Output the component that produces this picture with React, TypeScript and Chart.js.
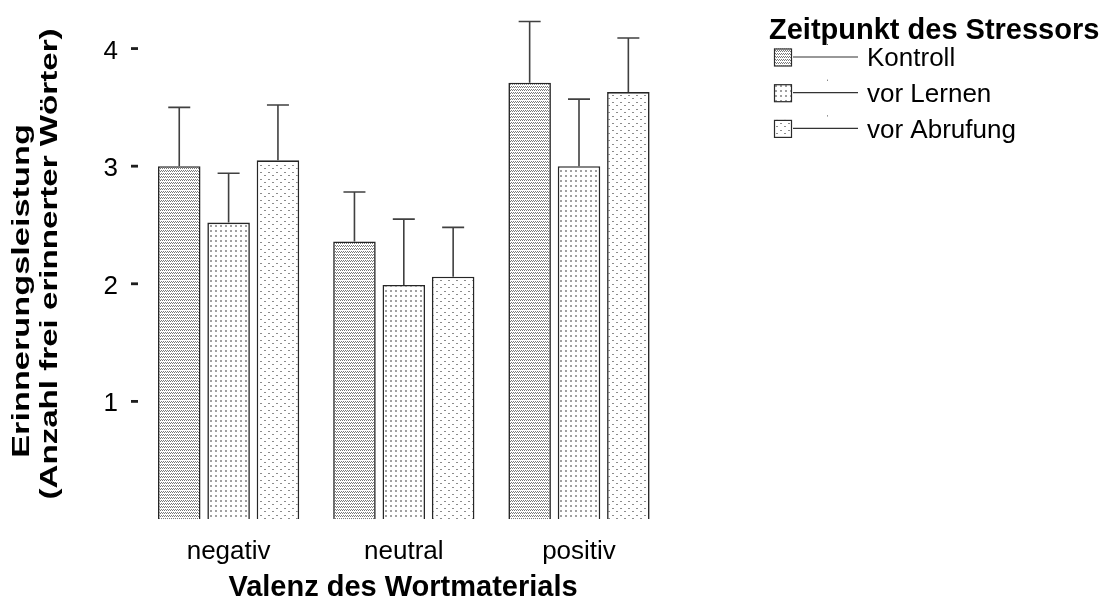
import React, { useEffect, useRef } from "react";
import { Chart, registerables } from "chart.js";

Chart.register(...registerables);

// Recall performance by word valence and timing of the stressor
const CATEGORIES = ["negativ", "neutral", "positiv"];
const SERIES_NAMES = ["Kontroll", "vor Lernen", "vor Abrufung"];
const KONTROLL = [3.0, 2.36, 3.71];
const VOR_LERNEN = [2.52, 1.99, 3.0];
const VOR_ABRUFUNG = [3.05, 2.06, 3.63];
// upper error bar length per bar
const KONTROLL_ERR = [0.5, 0.42, 0.52];
const VOR_LERNEN_ERR = [0.42, 0.56, 0.57];
const VOR_ABRUFUNG_ERR = [0.47, 0.42, 0.46];
const Y_TICKS = [1, 2, 3, 4];

const Y_TITLE_1 = "Erinnerungsleistung";
const Y_TITLE_2 = "(Anzahl frei erinnerter Wörter)";
const X_TITLE = "Valenz des Wortmaterials";
const LEGEND_TITLE = "Zeitpunkt des Stressors";

const FONT = '"Liberation Sans", Arial, Helvetica, sans-serif';

type Dot = [number, number, number, number];

function makePattern(
  ctx: CanvasRenderingContext2D,
  w: number,
  h: number,
  dots: Dot[],
  color: string
): CanvasPattern {
  const tile = document.createElement("canvas");
  tile.width = w;
  tile.height = h;
  const t = tile.getContext("2d")!;
  t.fillStyle = "#ffffff";
  t.fillRect(0, 0, w, h);
  t.fillStyle = color;
  for (const [x, y, dw, dh] of dots) t.fillRect(x, y, dw, dh);
  return ctx.createPattern(tile, "repeat")!;
}

function drawText(
  ctx: CanvasRenderingContext2D,
  text: string,
  x: number,
  y: number,
  font: string,
  align: CanvasTextAlign,
  sx = 1,
  rotated = false
) {
  ctx.save();
  ctx.translate(x, y);
  if (rotated) ctx.rotate(-Math.PI / 2);
  ctx.scale(sx, 1);
  ctx.font = font;
  ctx.textAlign = align;
  ctx.textBaseline = "alphabetic";
  ctx.fillStyle = "#000";
  ctx.fillText(text, 0, 0);
  ctx.restore();
}

export default function App() {
  const ref = useRef<HTMLCanvasElement>(null);

  useEffect(() => {
    const canvas = ref.current!;
    const ctx = canvas.getContext("2d")!;

    const patterns = [
      makePattern(ctx, 4, 3, [[0, 0, 1, 1], [2, 0, 1, 1], [1, 2, 1, 1], [3, 2, 1, 1]], "#7a7a7a"),
      makePattern(ctx, 5, 5, [[0, 0, 2, 2]], "#a0a0a0"),
      makePattern(ctx, 8, 7, [[0, 0, 2, 1], [4, 4, 2, 1]], "#8c8c8c"),
    ];
    const values = [KONTROLL, VOR_LERNEN, VOR_ABRUFUNG];
    const errors = [KONTROLL_ERR, VOR_LERNEN_ERR, VOR_ABRUFUNG_ERR];

    const errorBars = {
      id: "errorBars",
      afterDatasetsDraw(chart: any) {
        const c = chart.ctx as CanvasRenderingContext2D;
        const y = chart.scales.y;
        c.save();
        c.strokeStyle = "#404040";
        c.lineWidth = 1.6;
        chart.data.datasets.forEach((_ds: any, di: number) => {
          const meta = chart.getDatasetMeta(di);
          meta.data.forEach((bar: any, i: number) => {
            const top = y.getPixelForValue(values[di][i] + errors[di][i]);
            c.beginPath();
            c.moveTo(bar.x, bar.y);
            c.lineTo(bar.x, top);
            c.moveTo(bar.x - 11, top);
            c.lineTo(bar.x + 11, top);
            c.stroke();
          });
        });
        c.restore();
      },
    };

    const decorations = {
      id: "decorations",
      afterDraw(chart: any) {
        const c = chart.ctx as CanvasRenderingContext2D;
        const xs = chart.scales.x;
        const ys = chart.scales.y;

        // y ticks: short dashes and numbers
        for (const t of Y_TICKS) {
          const py = ys.getPixelForValue(t);
          c.fillStyle = "#1e1e1e";
          c.fillRect(131, py - 1.4, 7, 2.8);
          drawText(c, String(t), 118, py + 10, `26px ${FONT}`, "right");
        }

        // category labels
        CATEGORIES.forEach((cat, i) => {
          drawText(c, cat, xs.getPixelForValue(i), 559, `26px ${FONT}`, "center");
        });

        // axis titles
        drawText(c, X_TITLE, 403, 596, `bold 29px ${FONT}`, "center");
        drawText(c, Y_TITLE_1, 29, 291, `bold 24px ${FONT}`, "center", 1.43, true);
        drawText(c, Y_TITLE_2, 57, 264, `bold 24px ${FONT}`, "center", 1.38, true);

        // legend
        drawText(c, LEGEND_TITLE, 769, 39, `bold 29px ${FONT}`, "left");
        SERIES_NAMES.forEach((name, i) => {
          const cy = 57 + i * 35.7;
          const top = cy - 8.5;
          c.save();
          c.fillStyle = patterns[i];
          c.fillRect(774, top, 17, 17);
          c.strokeStyle = "#2a2a2a";
          c.lineWidth = 1.2;
          c.strokeRect(774.5, top + 0.5, 17, 17);
          c.strokeStyle = "#333";
          c.lineWidth = 1.2;
          c.beginPath();
          c.moveTo(793, cy);
          c.lineTo(858, cy);
          c.stroke();
          c.fillStyle = "#555";
          c.fillRect(827, cy - 13, 1, 1);
          c.restore();
          drawText(c, name, 867, 66 + i * 35.8, `26px ${FONT}`, "left");
        });
      },
    };

    const chart = new Chart(canvas, {
      type: "bar",
      data: {
        labels: CATEGORIES,
        datasets: SERIES_NAMES.map((name, i) => ({
          label: name,
          data: values[i],
          backgroundColor: patterns[i] as any,
          borderColor: "#262626",
          borderWidth: 1.6,
          barPercentage: 0.862,
          categoryPercentage: 0.845,
        })),
      },
      options: {
        responsive: false,
        devicePixelRatio: 1,
        animation: false,
        events: [],
        layout: { padding: { left: 141, right: 442.4, top: 7.4, bottom: 82 } },
        plugins: { legend: { display: false }, tooltip: { enabled: false } },
        scales: {
          x: { type: "category", display: false, offset: true, grid: { display: false } },
          y: { display: false, min: 0, max: 4.35, grid: { display: false } },
        },
      },
      plugins: [errorBars, decorations],
    });

    return () => chart.destroy();
  }, []);

  return (
    <div
      style={{
        position: "fixed",
        left: 0,
        top: 0,
        width: 1109,
        height: 601,
        background: "#ffffff",
      }}
    >
      <canvas ref={ref} width={1109} height={601} style={{ display: "block", width: 1109, height: 601 }} />
    </div>
  );
}
